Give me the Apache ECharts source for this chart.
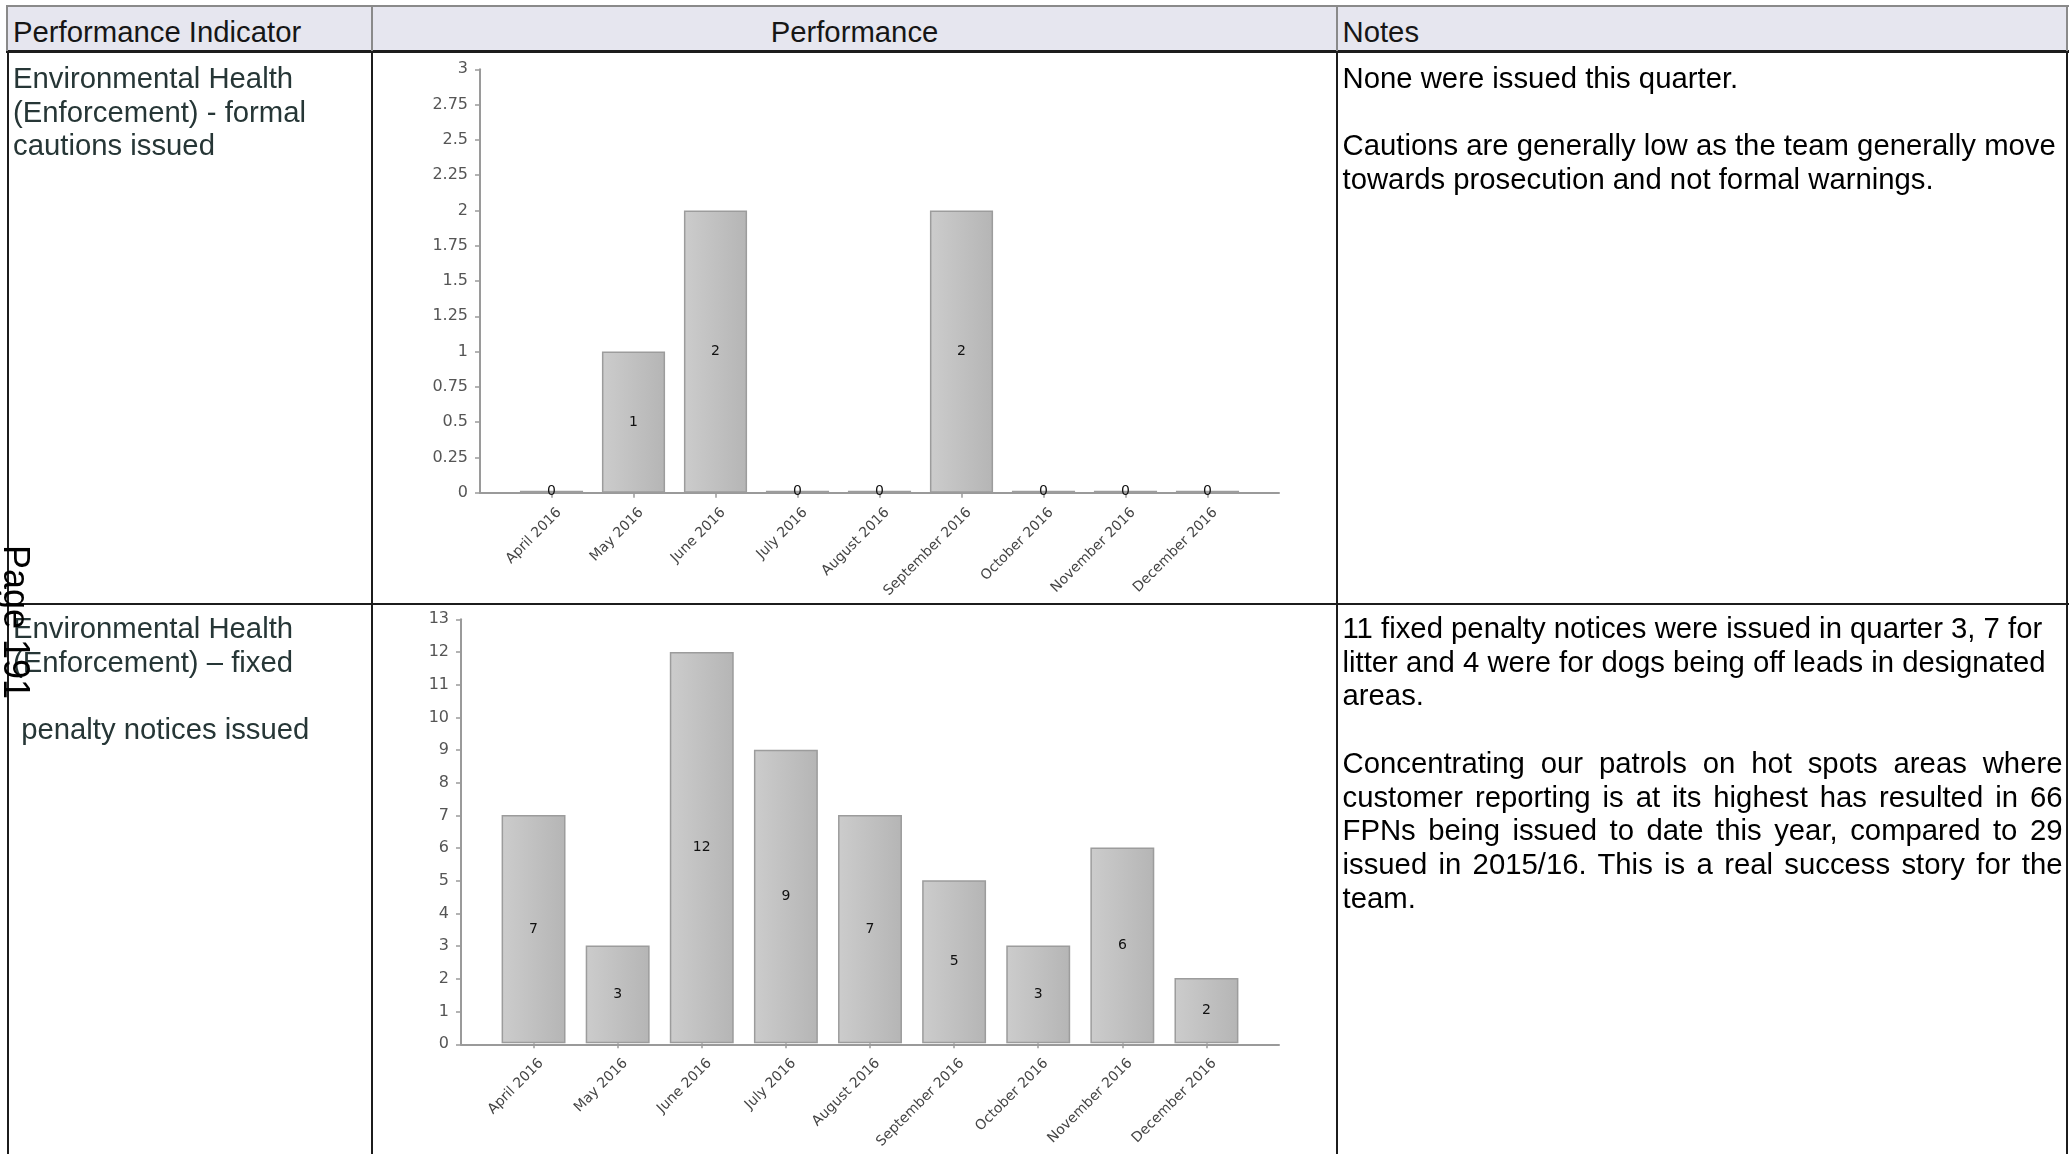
<!DOCTYPE html>
<html>
<head>
<meta charset="utf-8">
<title>Environmental Health (Enforcement) performance</title>
<script src="https://cdn.jsdelivr.net/npm/echarts@6/dist/echarts.min.js"></script>
<style>
  html, body { margin: 0; padding: 0; background: #ffffff; }
  #page { position: relative; width: 2071px; height: 1154px; overflow: hidden; background: #ffffff; }
  #charts { position: absolute; left: 0; top: 0; width: 2071px; height: 1154px; }
  .rule { position: absolute; pointer-events: none; }
  .txt {
    position: absolute; pointer-events: none;
    font-family: "Liberation Sans", Arial, sans-serif;
    font-size: 29.3px; line-height: 33.7px; white-space: nowrap;
  }
  .head { color: #161616; }
  .indicator { color: #263636; }
  .notes { color: #000000; white-space: normal; width: 720px; }
  .notes p { margin: 0; }
  .justify { text-align: justify; }
  .pageno {
    position: absolute; left: 34px; top: 545px;
    font-family: "Liberation Sans", Arial, sans-serif;
    font-size: 36px; line-height: 35px; color: #000; white-space: nowrap;
    transform: rotate(90deg); transform-origin: 0 0;
  }
</style>
</head>
<body>
<div id="page">
  <div id="charts"></div>

  <!-- header band -->
  <div class="rule" style="left:7px;top:6px;width:2061px;height:45px;background:#e6e6ef;"></div>
  <!-- horizontal rules -->
  <div class="rule" style="left:6px;top:5px;width:2063px;height:2px;background:#8a8a8a;"></div>
  <div class="rule" style="left:6px;top:50px;width:2063px;height:3px;background:#1c1c1c;"></div>
  <div class="rule" style="left:6px;top:603px;width:2063px;height:2px;background:#1c1c1c;"></div>
  <!-- vertical rules, header part -->
  <div class="rule" style="left:6px;top:5px;width:2px;height:46px;background:#8a8a8a;"></div>
  <div class="rule" style="left:371px;top:5px;width:2px;height:46px;background:#8a8a8a;"></div>
  <div class="rule" style="left:1336px;top:5px;width:2px;height:46px;background:#8a8a8a;"></div>
  <div class="rule" style="left:2066px;top:5px;width:2px;height:46px;background:#8a8a8a;"></div>
  <!-- vertical rules, body part -->
  <div class="rule" style="left:7px;top:51px;width:2px;height:1110px;background:#1c1c1c;"></div>
  <div class="rule" style="left:371px;top:51px;width:2px;height:1110px;background:#1c1c1c;"></div>
  <div class="rule" style="left:1336px;top:51px;width:2px;height:1110px;background:#1c1c1c;"></div>
  <div class="rule" style="left:2066px;top:51px;width:2px;height:1110px;background:#1c1c1c;"></div>

  <!-- header captions -->
  <div class="txt head" style="left:13px;top:14.8px;">Performance Indicator</div>
  <div class="txt head" style="left:373px;top:14.8px;width:963px;text-align:center;">Performance</div>
  <div class="txt head" style="left:1342.5px;top:14.8px;">Notes</div>

  <!-- row 1 -->
  <div class="txt indicator" style="left:13px;top:61px;">Environmental Health<br>(Enforcement) - formal<br>cautions issued</div>
  <div class="txt notes" style="left:1342.5px;top:61px;">
    <p>None were issued this quarter.</p>
    <p>&nbsp;</p>
    <p>Cautions are generally low as the team generally move towards prosecution and not formal warnings.</p>
  </div>

  <!-- row 2 -->
  <div class="txt indicator" style="left:13px;top:611px;">Environmental Health<br>(Enforcement) – fixed<br><br>&nbsp;penalty notices issued</div>
  <div class="txt notes" style="left:1342.5px;top:611px;">
    <p>11 fixed penalty notices were issued in quarter 3, 7 for litter and 4 were for dogs being off leads in designated areas.</p>
    <p>&nbsp;</p>
    <p class="justify">Concentrating our patrols on hot spots areas where customer reporting is at its highest has resulted in 66 FPNs being issued to date this year, compared to 29 issued in 2015/16. This is a real success story for the team.</p>
  </div>

  <div class="pageno">Page 191</div>
</div>

<script>
// Months reported on
const months = ['April 2016', 'May 2016', 'June 2016', 'July 2016', 'August 2016',
                'September 2016', 'October 2016', 'November 2016', 'December 2016'];

// Formal cautions issued per month
const formalCautions = [0, 1, 2, 0, 0, 2, 0, 0, 0];

// Fixed penalty notices issued per month
const fixedPenaltyNotices = [7, 3, 12, 9, 7, 5, 3, 6, 2];

// Value-axis ranges and tick steps
const cautionsScale = [0, 3, 0.25];
const fpnScale = [0, 13, 1];

const FONT = 'DejaVu Sans';
const AXIS_GREY = '#9a9a9a';

const chart = echarts.init(document.getElementById('charts'), null, { renderer: 'canvas' });

const barFill = new echarts.graphic.LinearGradient(0, 0, 1, 0, [
  { offset: 0, color: '#cccccc' },
  { offset: 1, color: '#b5b5b5' }
]);

// Each panel uses an outer grid for the axis frame (which runs a little
// past the outermost bars) and an inner grid holding the category bands.
function panel(frame, pad, values, scale, gap, minHeight, firstGrid) {
  const inner = { left: frame.left + pad, top: frame.top, width: frame.width - 2 * pad, height: frame.height };
  const grids = [frame, inner];
  const xAxes = [
    {
      gridIndex: firstGrid, type: 'value', min: 0, max: 1,
      axisLine: { show: true, lineStyle: { color: AXIS_GREY, width: 2 } },
      axisTick: { show: false }, axisLabel: { show: false }, splitLine: { show: false }
    },
    {
      gridIndex: firstGrid + 1, type: 'category', data: months, boundaryGap: true,
      axisLine: { show: false },
      axisTick: { show: true, alignWithLabel: true, length: 5, lineStyle: { color: AXIS_GREY, width: 1.5 } },
      axisLabel: {
        interval: 0, rotate: 45, margin: 10,
        verticalAlign: 'top', lineHeight: 22,
        color: '#454545', fontFamily: FONT, fontSize: 14
      },
      splitLine: { show: false }
    }
  ];
  const yAxes = [
    {
      gridIndex: firstGrid, type: 'value', min: scale[0], max: scale[1], interval: scale[2],
      axisLine: { show: true, lineStyle: { color: AXIS_GREY, width: 2 } },
      axisTick: { show: true, length: 5, lineStyle: { color: AXIS_GREY, width: 1.5 } },
      axisLabel: { margin: 12, color: '#555555', fontFamily: FONT, fontSize: 16 },
      splitLine: { show: false }
    },
    {
      gridIndex: firstGrid + 1, type: 'value', min: scale[0], max: scale[1], interval: scale[2], show: false
    }
  ];
  const series = {
    type: 'bar',
    xAxisIndex: firstGrid + 1, yAxisIndex: firstGrid + 1,
    data: values,
    barCategoryGap: gap,
    barMinHeight: minHeight,
    itemStyle: { color: barFill, borderColor: '#9c9c9c', borderWidth: 1.5 },
    label: {
      show: true, position: 'inside', color: '#111111',
      fontFamily: FONT, fontSize: 14
    },
    emphasis: { disabled: true },
    silent: true
  };
  return { grids, xAxes, yAxes, series };
}

const cautionsPanel = panel({ left: 480, top: 69.3, width: 799, height: 423.4 }, 30.5,
                            formalCautions, cautionsScale, '23%', 2, 0);
const fpnPanel = panel({ left: 461, top: 619.3, width: 818, height: 425 }, 30.5,
                       fixedPenaltyNotices, fpnScale, '24%', 0, 2);

chart.setOption({
  animation: false,
  backgroundColor: 'transparent',
  textStyle: { fontFamily: FONT },
  grid: cautionsPanel.grids.concat(fpnPanel.grids).map(g => Object.assign({ containLabel: false }, g)),
  xAxis: cautionsPanel.xAxes.concat(fpnPanel.xAxes),
  yAxis: cautionsPanel.yAxes.concat(fpnPanel.yAxes),
  series: [cautionsPanel.series, fpnPanel.series]
});
</script>
</body>
</html>
